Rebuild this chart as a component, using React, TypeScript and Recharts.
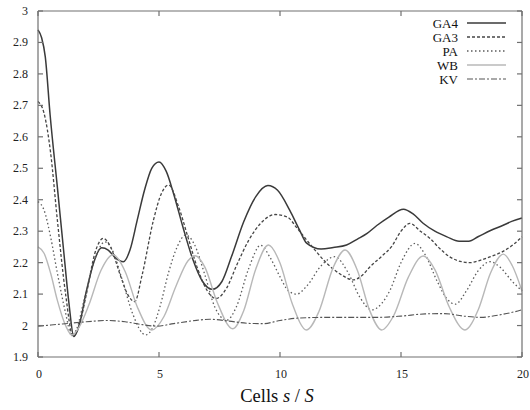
import { LineChart, Line, XAxis, YAxis, Legend, Label } from 'recharts';

// x positions in cells s/S, y values
const xTicks = [0, 5, 10, 15, 20];
const yTicks = [1.9, 2, 2.1, 2.2, 2.3, 2.4, 2.5, 2.6, 2.7, 2.8, 2.9, 3];

const ga4 = [
  [0, 2.94], [0.15, 2.915], [0.3, 2.855], [0.5, 2.67], [0.8, 2.44], [1.07, 2.23],
  [1.28, 2.07], [1.48, 1.965], [1.7, 2.0], [2.0, 2.11], [2.3, 2.2], [2.63, 2.247],
  [2.9, 2.24], [3.2, 2.215], [3.53, 2.203], [3.8, 2.24], [4.1, 2.335], [4.4, 2.43],
  [4.7, 2.5], [5.0, 2.52], [5.3, 2.49], [5.6, 2.42], [6.0, 2.31], [6.4, 2.21],
  [6.8, 2.14], [7.2, 2.115], [7.6, 2.14], [8.0, 2.22], [8.5, 2.33], [9.0, 2.41],
  [9.5, 2.445], [9.9, 2.43], [10.4, 2.367], [10.8, 2.305], [11.1, 2.262], [11.7, 2.243],
  [12.2, 2.248], [12.75, 2.256], [13.2, 2.275], [13.6, 2.293], [14.0, 2.318], [14.5, 2.345],
  [15.1, 2.37], [15.5, 2.355], [15.9, 2.326], [16.4, 2.3], [16.9, 2.282], [17.4, 2.268],
  [17.8, 2.268], [18.2, 2.283], [18.7, 2.302], [19.2, 2.318], [19.6, 2.332], [20, 2.342],
];

const ga3 = [
  [0, 2.712], [0.25, 2.675], [0.52, 2.55], [0.8, 2.335], [1.14, 2.1], [1.45, 1.965],
  [1.7, 2.0], [2.0, 2.1], [2.35, 2.23], [2.7, 2.277], [3.0, 2.25], [3.4, 2.16],
  [3.7, 2.1], [4.0, 2.076], [4.3, 2.16], [4.77, 2.335], [5.1, 2.42], [5.4, 2.447],
  [5.8, 2.38], [6.2, 2.28], [6.6, 2.18], [7.0, 2.11], [7.35, 2.086], [7.8, 2.12],
  [8.2, 2.19], [8.7, 2.27], [9.2, 2.325], [9.8, 2.353], [10.3, 2.345], [10.7, 2.31],
  [11.1, 2.272], [11.5, 2.235], [11.93, 2.198], [12.5, 2.163], [13.03, 2.145], [13.4, 2.16],
  [13.72, 2.187], [14.2, 2.22], [14.6, 2.25], [15.0, 2.3], [15.37, 2.325], [15.8, 2.3],
  [16.2, 2.277], [16.6, 2.245], [17.0, 2.219], [17.5, 2.203], [17.85, 2.2], [18.3, 2.208],
  [18.7, 2.219], [19.2, 2.235], [19.6, 2.255], [20, 2.282],
];

const pa = [
  [0, 2.394], [0.25, 2.367], [0.52, 2.282], [0.8, 2.167], [1.14, 2.04], [1.38, 1.97],
  [1.6, 1.99], [1.9, 2.08], [2.3, 2.2], [2.77, 2.266], [3.1, 2.235], [3.5, 2.14],
  [3.9, 2.04], [4.45, 1.97], [4.75, 1.995], [5.04, 2.06], [5.4, 2.17], [5.75, 2.25],
  [6.1, 2.288], [6.45, 2.26], [6.9, 2.16], [7.3, 2.06], [7.8, 2.017], [8.2, 2.06],
  [8.7, 2.18], [9.2, 2.255], [9.6, 2.215], [10.0, 2.155], [10.35, 2.11], [10.69, 2.1],
  [11.1, 2.125], [11.7, 2.19], [12.27, 2.219], [12.8, 2.17], [13.3, 2.09], [13.79, 2.05],
  [14.2, 2.07], [14.55, 2.113], [15.0, 2.2], [15.58, 2.261], [16.0, 2.225], [16.5, 2.14],
  [16.9, 2.085], [17.25, 2.068], [17.7, 2.11], [18.2, 2.175], [18.68, 2.203], [19.1, 2.185],
  [19.6, 2.14], [20, 2.11],
];

const wb = [
  [0, 2.25], [0.25, 2.23], [0.52, 2.167], [0.8, 2.08], [1.14, 2.0], [1.4, 1.97],
  [1.7, 1.995], [2.1, 2.065], [2.6, 2.175], [3.1, 2.225], [3.6, 2.172], [4.1, 2.06],
  [4.7, 1.986], [5.2, 2.028], [5.7, 2.125], [6.2, 2.206], [6.5, 2.222], [6.9, 2.185],
  [7.4, 2.075], [8.05, 1.99], [8.5, 2.047], [9.0, 2.18], [9.52, 2.256], [10.0, 2.199],
  [10.5, 2.071], [11.1, 1.986], [11.6, 2.043], [12.2, 2.185], [12.69, 2.24], [13.2, 2.175],
  [13.7, 2.049], [14.2, 1.986], [14.7, 2.032], [15.3, 2.153], [15.92, 2.221], [16.4, 2.178],
  [17.0, 2.058], [17.64, 1.986], [18.2, 2.052], [18.7, 2.167], [19.23, 2.227], [19.6, 2.19],
  [20, 2.11],
];

const kv = [
  [0, 1.998], [1, 2.005], [2, 2.012], [2.8, 2.016], [3.6, 2.012], [4.3, 2.003],
  [4.9, 1.998], [5.6, 2.006], [6.4, 2.015], [7.1, 2.02], [7.9, 2.014], [8.7, 2.007],
  [9.3, 2.006], [10, 2.016], [10.8, 2.024], [12, 2.026], [13, 2.026], [14, 2.026],
  [15, 2.03], [16, 2.037], [16.8, 2.038], [17.6, 2.03], [18.3, 2.026], [19, 2.033],
  [19.6, 2.042], [20, 2.05],
];

const FONT = '"Liberation Serif", "Times New Roman", serif';
const FRAME = '#707070';
const LABEL_RIGHT = 28;

const series = [
  { name: 'GA4', points: ga4, stroke: '#3a3a3a', width: 1.5, dash: undefined },
  { name: 'GA3', points: ga3, stroke: '#454545', width: 1.3, dash: '3 2' },
  { name: 'PA', points: pa, stroke: '#5c5c5c', width: 1.3, dash: '1.5 2.5' },
  { name: 'WB', points: wb, stroke: '#b8b8b8', width: 1.4, dash: undefined },
  { name: 'KV', points: kv, stroke: '#555555', width: 1.1, dash: '6 2 2 2' },
];

const toRows = (pts: number[][]) => pts.map(([x, y]) => ({ x, y }));

const fmtY = (v: number) => String(Number(v.toFixed(1)));

function YTick({ y, payload }: any) {
  return (
    <text x={LABEL_RIGHT} y={y} dy={4} textAnchor="end" style={{ fontFamily: FONT, fontSize: 12 }} fill="#222">
      {fmtY(payload.value)}
    </text>
  );
}

function XTick({ x, y, payload }: any) {
  return (
    <text x={x + 1} y={y} dy={9} textAnchor="middle" style={{ fontFamily: FONT, fontSize: 12 }} fill="#222">
      {payload.value}
    </text>
  );
}

const Blank = () => <g />;

function AxisTitle({ viewBox }: any) {
  const cx = viewBox.x + viewBox.width / 2 - 3;
  return (
    <text x={cx} y={viewBox.y + 45} textAnchor="middle" style={{ fontFamily: FONT, fontSize: 18.5 }} fill="#111">
      Cells <tspan fontStyle="italic">s</tspan> / <tspan fontStyle="italic">S</tspan>
    </text>
  );
}

function KeyBox() {
  return (
    <svg width={120} height={80} style={{ display: 'block' }}>
      {series.map((s, i) => {
        const y = 9 + i * 14;
        return (
          <g key={s.name}>
            <text x={58} y={y + 4.5} textAnchor="end" style={{ fontFamily: FONT, fontSize: 13 }} fill="#111">
              {s.name}
            </text>
            <line x1={67} x2={106} y1={y} y2={y} stroke={s.stroke} strokeWidth={s.width} strokeDasharray={s.dash} />
          </g>
        );
      })}
    </svg>
  );
}

export default function App() {
  return (
    <div style={{ position: 'absolute', left: 0, top: 0, fontFamily: FONT }}>
      <LineChart width={530} height={410} margin={{ top: 10, right: 7, bottom: 0, left: 0 }}>
        <XAxis
          dataKey="x"
          type="number"
          domain={[0, 20]}
          ticks={xTicks}
          interval={0}
          height={53}
          tickSize={-5}
          tickMargin={17}
          tick={<XTick />}
          stroke={FRAME}
          strokeWidth={1.2}
          label={<Label content={AxisTitle} />}
        />
        <XAxis
          xAxisId="top"
          orientation="top"
          dataKey="x"
          type="number"
          domain={[0, 20]}
          ticks={xTicks}
          interval={0}
          height={1}
          tickSize={-5}
          tick={<Blank />}
          stroke={FRAME}
          strokeWidth={1.2}
        />
        <YAxis
          type="number"
          domain={[1.9, 3]}
          ticks={yTicks}
          interval={0}
          width={38}
          tickSize={-5}
          tick={<YTick />}
          stroke={FRAME}
          strokeWidth={1.2}
        />
        <YAxis
          yAxisId="right"
          orientation="right"
          type="number"
          domain={[1.9, 3]}
          ticks={yTicks}
          interval={0}
          width={1}
          tickSize={-5}
          tick={<Blank />}
          stroke={FRAME}
          strokeWidth={1.2}
        />
        <Legend
          layout="vertical"
          align="center"
          verticalAlign="middle"
          wrapperStyle={{ left: 400, top: 14, width: 120, height: 80 }}
          content={<KeyBox />}
        />
        {series.map((s) => (
          <Line
            key={s.name}
            name={s.name}
            data={toRows(s.points)}
            dataKey="y"
            type="monotone"
            xAxisId={s.name === 'WB' ? 'top' : 0}
            yAxisId={s.name === 'WB' ? 'right' : 0}
            stroke={s.stroke}
            strokeWidth={s.width}
            strokeDasharray={s.dash}
            dot={false}
            activeDot={false}
            isAnimationActive={false}
          />
        ))}
      </LineChart>
    </div>
  );
}
